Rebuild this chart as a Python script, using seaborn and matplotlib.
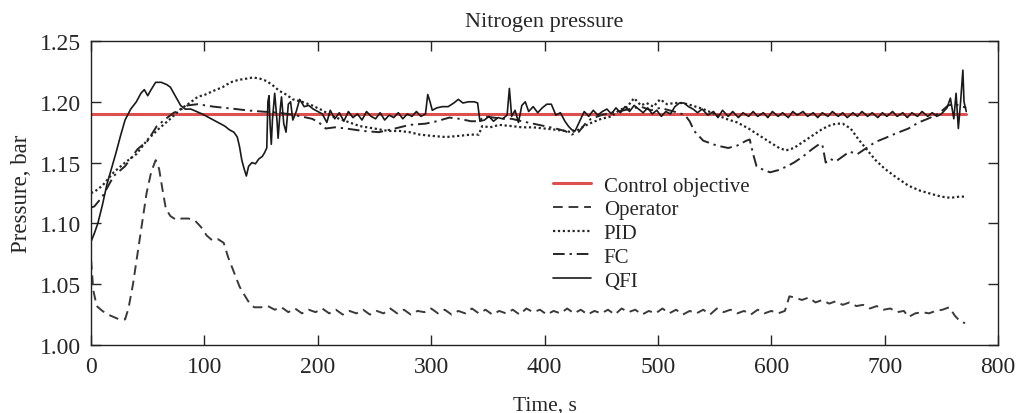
import matplotlib
matplotlib.use("Agg")
import matplotlib.pyplot as plt
import pandas as pd
import seaborn as sns


SETPOINT = 1.19
SETPOINT_T = [0, 772]

OPERATOR_T = [
    0, 2, 5, 10, 15, 20, 25, 30, 33, 37, 41, 45, 49, 53, 57, 60, 63, 66, 70, 75,
    80, 86, 92, 97, 102, 107, 112, 117, 121, 126, 131, 136, 140, 144, 150,
    156, 162, 168, 174, 180, 186, 192, 198, 204, 210, 216, 222, 228, 234, 240,
    246, 252, 258, 264, 270, 276, 282, 288, 294, 300, 306, 312, 318, 324, 330,
    336, 342, 348, 354, 360, 366, 372, 378, 384, 390, 396, 402, 408, 414, 420,
    426, 432, 438, 444, 450, 456, 462, 468, 474, 480, 486, 492, 498, 504, 510,
    516, 522, 528, 534, 540, 546, 552, 558, 564, 570, 576, 582, 588, 594, 600,
    606, 612, 616, 621, 627, 633, 639, 645, 651, 657, 663, 669, 675, 681, 687,
    693, 699, 705, 711, 717, 721, 727, 733, 739, 745, 751, 757, 762, 767, 771,
]
OPERATOR_P = [
    1.070, 1.045, 1.032, 1.028, 1.025, 1.023, 1.021, 1.021, 1.030, 1.050,
    1.075, 1.100, 1.125, 1.142, 1.152, 1.145, 1.128, 1.112, 1.106, 1.103,
    1.104, 1.104, 1.102, 1.097, 1.090, 1.086, 1.087, 1.084, 1.072, 1.060, 1.048, 1.040, 1.034, 1.031, 1.031,
    1.032, 1.029, 1.031, 1.027, 1.030, 1.026, 1.029, 1.027, 1.030, 1.026, 1.029, 1.025, 1.028, 1.026, 1.029,
    1.025, 1.028, 1.026, 1.030, 1.026, 1.029, 1.025, 1.028, 1.027, 1.030, 1.026, 1.029, 1.025, 1.028, 1.026,
    1.030, 1.026, 1.029, 1.025, 1.028, 1.026, 1.029, 1.025, 1.030, 1.027, 1.029, 1.025, 1.028, 1.026, 1.030,
    1.026, 1.029, 1.025, 1.028, 1.026, 1.029, 1.025, 1.030, 1.027, 1.029, 1.025, 1.028, 1.026, 1.030, 1.026,
    1.029, 1.025, 1.028, 1.026, 1.029, 1.025, 1.030, 1.027, 1.029, 1.026, 1.028, 1.025, 1.029, 1.026, 1.028,
    1.026, 1.028, 1.040, 1.039, 1.037, 1.039, 1.035, 1.037, 1.034, 1.036, 1.033, 1.035, 1.032, 1.033, 1.030,
    1.032, 1.029, 1.030, 1.027, 1.028, 1.023, 1.026, 1.027, 1.026, 1.028, 1.029, 1.031, 1.024, 1.019, 1.018,
]

PID_T = [
    0, 3, 10, 20, 30, 40, 50, 60, 70, 79, 87, 94, 101, 108, 116, 123, 130, 137,
    143, 149, 155, 161, 166, 172, 178, 186, 195, 204, 213, 225, 237, 250, 262,
    272, 281, 290, 300, 313, 325, 335, 342, 345, 352, 360, 371, 380, 390, 400,
    410, 418, 424, 430, 435, 442, 450, 459, 466, 473, 479, 485, 490, 496, 502,
    508, 515, 522, 530, 540, 550, 560, 570, 580, 590, 600, 607, 613, 620, 628,
    636, 644, 650, 657, 663, 670, 677, 684, 692, 700, 710, 721, 731, 742, 750,
    758, 766, 772,
]
PID_P = [
    1.125, 1.126, 1.131, 1.142, 1.150, 1.157, 1.169, 1.178, 1.186, 1.194,
    1.199, 1.204, 1.206, 1.209, 1.212, 1.216, 1.218, 1.219, 1.220, 1.219,
    1.217, 1.213, 1.209, 1.206, 1.202, 1.200, 1.197, 1.193, 1.188, 1.184,
    1.180, 1.178, 1.176, 1.176, 1.175, 1.173, 1.172, 1.171, 1.172, 1.173,
    1.173, 1.180, 1.179, 1.181, 1.180, 1.179, 1.179, 1.178, 1.177, 1.176,
    1.175, 1.177, 1.180, 1.183, 1.186, 1.188, 1.193, 1.196, 1.203, 1.197,
    1.199, 1.196, 1.202, 1.198, 1.199, 1.199, 1.197, 1.194, 1.190, 1.186,
    1.183, 1.178, 1.172, 1.166, 1.162, 1.160, 1.162, 1.167, 1.172, 1.177,
    1.180, 1.182, 1.182, 1.178, 1.169, 1.161, 1.152, 1.145, 1.138, 1.131,
    1.127, 1.124, 1.122, 1.121, 1.122, 1.122,
]

FC_T = [
    0, 3, 10, 20, 30, 41, 50, 58, 66, 73, 80, 85, 94, 101, 108, 118, 128, 137,
    150, 166, 180, 195, 201, 207, 215, 225, 240, 254, 268, 281, 295, 305, 316,
    325, 335, 342, 347, 355, 363, 371, 380, 390, 400, 410, 418, 424, 430, 436,
    441, 450, 458, 465, 475, 485, 494, 502, 510, 518, 524, 528, 532, 540, 552,
    562, 570, 578, 581, 584, 587, 593, 599, 607, 614, 620, 628, 636, 642, 645,
    648, 652, 657, 663, 669, 676, 684, 692, 700, 710, 721, 730, 738, 745, 751,
    756, 761, 766, 772,
]
FC_P = [
    1.113, 1.114, 1.122, 1.139, 1.147, 1.161, 1.168, 1.180, 1.186, 1.191,
    1.194, 1.197, 1.198, 1.197, 1.196, 1.195, 1.194, 1.193, 1.192, 1.191,
    1.189, 1.186, 1.183, 1.178, 1.179, 1.178, 1.176, 1.175, 1.178, 1.181,
    1.182, 1.184, 1.187, 1.186, 1.184, 1.184, 1.188, 1.187, 1.186, 1.186,
    1.184, 1.182, 1.180, 1.178, 1.176, 1.173, 1.175, 1.182, 1.186, 1.189,
    1.191, 1.192, 1.194, 1.196, 1.193, 1.195, 1.193, 1.191, 1.189, 1.184,
    1.176, 1.168, 1.164, 1.162, 1.164, 1.168, 1.169, 1.157, 1.147, 1.144,
    1.142, 1.144, 1.147, 1.150, 1.155, 1.161, 1.165, 1.165, 1.150, 1.153,
    1.151, 1.155, 1.159, 1.157, 1.162, 1.167, 1.170, 1.174, 1.178, 1.183,
    1.186, 1.189, 1.193, 1.197, 1.198, 1.197, 1.195,
]

QFI_T = [
    0, 3, 6, 10, 14, 18, 22, 26, 30, 35, 40, 44, 47, 50, 53, 57, 62, 67, 70, 73,
    76, 79, 83, 88, 93, 98, 102, 106, 110, 114, 118, 122, 126, 129, 131, 133,
    135, 137, 139, 142, 145, 148, 151, 153, 155, 156, 157, 158, 159, 160, 162,
    164, 165, 167, 168, 170, 172, 174, 176, 178, 181, 184, 188, 192, 196, 200,
    204, 208, 211, 215, 219, 223, 227, 231, 235, 239, 243, 247, 251, 255, 259,
    263, 267, 271, 275, 279, 283, 287, 291, 295, 297, 299, 301, 305, 310, 315,
    320, 324, 328, 333, 338, 341, 343, 347, 351, 355, 359, 363, 367, 369, 371,
    374, 377, 380, 383, 386, 390, 394, 398, 402, 406, 410, 414, 418, 421, 424,
    427, 431, 435, 439, 443, 447, 451, 455, 459, 463, 467, 471, 475, 479, 483,
    487, 491, 495, 499, 503, 507, 511, 515, 519, 523, 527, 531, 535, 539, 544,
    549, 553, 557, 562, 566, 571, 575, 580, 584, 588, 593, 597, 601, 606, 610,
    615, 619, 623, 628, 632, 637, 641, 645, 650, 654, 659, 663, 667, 672, 676,
    680, 685, 689, 694, 698, 702, 707, 711, 716, 720, 724, 729, 733, 738, 742,
    746, 750, 755, 758, 761, 763, 765, 767, 769, 770, 772,
]
QFI_P = [
    1.085, 1.092, 1.100, 1.115, 1.132, 1.145, 1.158, 1.172, 1.185, 1.194,
    1.200, 1.207, 1.210, 1.205, 1.210, 1.216, 1.216, 1.214, 1.212, 1.207,
    1.202, 1.197, 1.194, 1.194, 1.192, 1.190, 1.188, 1.186, 1.184, 1.182,
    1.180, 1.177, 1.175, 1.171, 1.163, 1.152,
    1.145, 1.139, 1.147, 1.150, 1.149, 1.153, 1.155, 1.158, 1.162, 1.200, 1.205, 1.180, 1.165, 1.185, 1.207,
    1.185, 1.170, 1.195, 1.204, 1.182, 1.175, 1.198, 1.200, 1.185, 1.192, 1.202, 1.196, 1.197, 1.194, 1.192,
    1.190, 1.183, 1.193, 1.186, 1.191, 1.184, 1.192, 1.187, 1.190, 1.185, 1.192, 1.188, 1.186, 1.191, 1.185,
    1.189, 1.187, 1.191, 1.186, 1.190, 1.188, 1.192, 1.188, 1.190, 1.206, 1.200, 1.193, 1.195, 1.196, 1.196,
    1.199, 1.202, 1.199, 1.200, 1.200, 1.199, 1.184, 1.185, 1.188, 1.184, 1.187, 1.186, 1.189, 1.211, 1.188,
    1.193, 1.183, 1.197, 1.200, 1.192, 1.196, 1.191, 1.195, 1.198, 1.198, 1.189, 1.191, 1.184, 1.180, 1.177,
    1.176, 1.184, 1.192, 1.188, 1.193, 1.189, 1.192, 1.194, 1.190, 1.195, 1.191, 1.196, 1.192, 1.197, 1.194,
    1.191, 1.195, 1.190, 1.193, 1.188, 1.192, 1.190, 1.196, 1.199, 1.199, 1.196, 1.194, 1.191, 1.194, 1.189,
    1.192, 1.187, 1.193, 1.188, 1.192, 1.187, 1.191, 1.188, 1.192, 1.188, 1.191, 1.187, 1.192, 1.188, 1.191,
    1.187, 1.192, 1.189, 1.192, 1.188, 1.191, 1.187, 1.191, 1.188, 1.192, 1.188, 1.191, 1.187, 1.191, 1.188,
    1.192, 1.188, 1.191, 1.187, 1.191, 1.188, 1.192, 1.188, 1.191, 1.187, 1.191, 1.188, 1.192, 1.188, 1.191,
    1.188, 1.190, 1.195, 1.203, 1.186, 1.207, 1.178, 1.200, 1.226, 1.200, 1.192,
]

X_TICKS = [0, 100, 200, 300, 400, 500, 600, 700, 800]
Y_TICKS = [1.00, 1.05, 1.10, 1.15, 1.20, 1.25]


def main() -> None:
    sns.set_theme(style="ticks")
    plt.rcParams["font.family"] = ["Liberation Serif", "DejaVu Serif"]

    fig = plt.figure(figsize=(10.16, 4.14), dpi=100)
    ax = fig.add_axes([0.0896, 0.1643, 0.8927, 0.7343])

    series = [
        ("Control objective", SETPOINT_T, [SETPOINT, SETPOINT], "#dd5050", "-", 2.2),
        ("Operator", OPERATOR_T, OPERATOR_P, "#3a3a3a", (0, (5, 3)), 1.4),
        ("PID", PID_T, PID_P, "#262626", (0, (1, 1.2)), 1.6),
        ("FC", FC_T, FC_P, "#262626", (0, (6, 2.5, 1.2, 2.5)), 1.4),
        ("QFI", QFI_T, QFI_P, "#1a1a1a", "-", 1.2),
    ]
    for name, t, p, color, ls, lw in series:
        df = pd.DataFrame({"t": t, "p": p})
        sns.lineplot(data=df, x="t", y="p", ax=ax, color=color, linestyle=ls,
                     linewidth=lw, label=name, sort=False, estimator=None)

    ax.set_xlim(0, 800)
    ax.set_ylim(1.0, 1.25)
    ax.set_xticks(X_TICKS)
    ax.set_yticks(Y_TICKS)
    ax.set_yticklabels([f"{v:.2f}" for v in Y_TICKS])
    ax.tick_params(direction="in", top=True, right=True, labeltop=False,
                   labelright=False, length=7, width=1, labelsize=17)
    ax.tick_params(axis="x", pad=8)
    ax.tick_params(axis="y", pad=7)
    for spine in ax.spines.values():
        spine.set_linewidth(1.0)
        spine.set_color("#222222")

    ax.set_title("Nitrogen pressure", fontsize=16, pad=11)
    ax.set_xlabel("Time, s", fontsize=15.5, labelpad=13)
    ax.set_ylabel("Pressure, bar", fontsize=16.5, labelpad=6)

    ax.legend(loc="upper left", bbox_to_anchor=(0.509, 0.556), frameon=False,
              fontsize=15, handlelength=1.85, handletextpad=0.6,
              labelspacing=0.2, borderaxespad=0, borderpad=0)

    fig.savefig("out.png", dpi=100)
    plt.close(fig)


if __name__ == "__main__":
    main()
